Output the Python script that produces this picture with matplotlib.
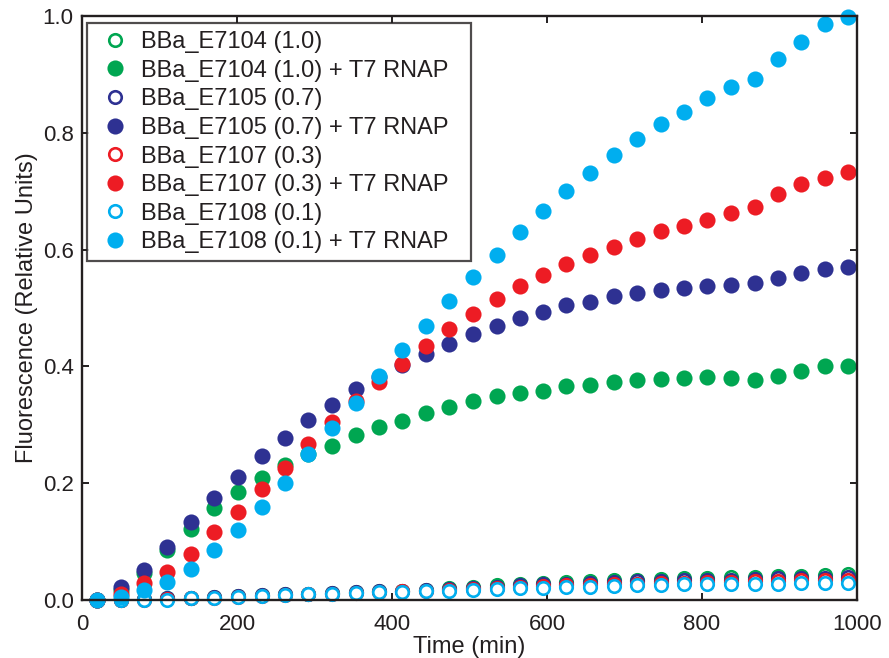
import numpy as np
import matplotlib.pyplot as plt

plt.rcParams['font.family'] = ['Liberation Sans', 'DejaVu Sans']

# sampling times (min)
time_min = [19, 50, 80, 110, 141, 171, 201, 232, 262, 292, 322, 353, 383,
            413, 444, 474, 504, 535, 565, 595, 625, 656, 686, 716, 747, 777,
            807, 837, 868, 898, 928, 959, 989]

# fluorescence without T7 RNAP (open symbols)
e7104 = [0.0, 0.001, 0.002, 0.003, 0.004, 0.005, 0.007, 0.008, 0.010, 0.011,
         0.012, 0.014, 0.015, 0.016, 0.018, 0.021, 0.023, 0.025, 0.027, 0.030,
         0.031, 0.033, 0.034, 0.035, 0.036, 0.037, 0.038, 0.039, 0.040, 0.041,
         0.042, 0.043, 0.044]
e7105 = [0.0, 0.001, 0.002, 0.003, 0.004, 0.005, 0.007, 0.008, 0.010, 0.011,
         0.012, 0.014, 0.015, 0.016, 0.017, 0.019, 0.021, 0.023, 0.025, 0.027,
         0.028, 0.030, 0.031, 0.032, 0.033, 0.034, 0.035, 0.035, 0.036, 0.037,
         0.038, 0.038, 0.039]
e7107 = [0.0, 0.001, 0.001, 0.002, 0.003, 0.004, 0.006, 0.007, 0.009, 0.010,
         0.011, 0.013, 0.014, 0.015, 0.016, 0.018, 0.019, 0.021, 0.022, 0.024,
         0.025, 0.026, 0.027, 0.028, 0.029, 0.030, 0.031, 0.031, 0.032, 0.033,
         0.034, 0.034, 0.035]
e7108 = [0.0, 0.0, 0.001, 0.001, 0.003, 0.004, 0.006, 0.007, 0.009, 0.010,
         0.011, 0.013, 0.014, 0.014, 0.015, 0.016, 0.017, 0.019, 0.020, 0.021,
         0.022, 0.023, 0.024, 0.025, 0.026, 0.027, 0.027, 0.027, 0.028, 0.028,
         0.029, 0.029, 0.030]

# fluorescence with T7 RNAP (filled symbols)
e7104_t7 = [0.0, 0.017, 0.046, 0.086, 0.122, 0.158, 0.185, 0.209, 0.232, 0.25,
            0.264, 0.283, 0.297, 0.307, 0.32, 0.331, 0.34, 0.349, 0.355, 0.358,
            0.366, 0.368, 0.374, 0.377, 0.378, 0.38, 0.382, 0.381, 0.377, 0.384,
            0.393, 0.401, 0.40]
e7105_t7 = [0.0, 0.023, 0.052, 0.091, 0.134, 0.174, 0.211, 0.247, 0.278, 0.308,
            0.334, 0.361, 0.382, 0.402, 0.422, 0.438, 0.455, 0.47, 0.483, 0.494,
            0.505, 0.511, 0.521, 0.525, 0.531, 0.535, 0.538, 0.539, 0.543, 0.551,
            0.56, 0.566, 0.57]
e7107_t7 = [0.0, 0.011, 0.029, 0.048, 0.079, 0.116, 0.151, 0.19, 0.227, 0.268,
            0.305, 0.34, 0.374, 0.404, 0.435, 0.464, 0.49, 0.515, 0.538, 0.556,
            0.575, 0.59, 0.605, 0.619, 0.632, 0.641, 0.65, 0.662, 0.673, 0.695,
            0.713, 0.722, 0.733]
e7108_t7 = [0.0, 0.006, 0.017, 0.031, 0.054, 0.086, 0.12, 0.16, 0.201, 0.25,
            0.294, 0.338, 0.384, 0.428, 0.47, 0.512, 0.553, 0.591, 0.631, 0.666,
            0.70, 0.732, 0.762, 0.789, 0.815, 0.836, 0.859, 0.878, 0.892, 0.926,
            0.955, 0.986, 0.998]

green = '#00a651'
navy = '#2e3192'
red = '#ed1c24'
cyan = '#00aeef'
ink = '#231f20'

series = [
    ('BBa_E7104 (1.0)', e7104, green, False),
    ('BBa_E7104 (1.0) + T7 RNAP', e7104_t7, green, True),
    ('BBa_E7105 (0.7)', e7105, navy, False),
    ('BBa_E7105 (0.7) + T7 RNAP', e7105_t7, navy, True),
    ('BBa_E7107 (0.3)', e7107, red, False),
    ('BBa_E7107 (0.3) + T7 RNAP', e7107_t7, red, True),
    ('BBa_E7108 (0.1)', e7108, cyan, False),
    ('BBa_E7108 (0.1) + T7 RNAP', e7108_t7, cyan, True),
]

fig = plt.figure(figsize=(8.89, 6.58), dpi=100)
ax = fig.add_axes([0.0922, 0.088, 0.8718, 0.8877])

for label, vals, col, filled in series:
    if filled:
        ax.plot(time_min, vals, 'o', ms=11.6, mfc=col, mec=col, mew=0,
                label=label, clip_on=False)
    else:
        ax.plot(time_min, vals, 'o', ms=9.0, mfc='white', mec=col, mew=1.9,
                label=label, clip_on=False)

ax.set_xlim(0, 1000)
ax.set_ylim(0, 1.0)
ax.set_xticks(np.arange(0, 1001, 200))
ax.set_yticks(np.arange(0, 1.01, 0.2))
ax.set_yticklabels(['%.1f' % v for v in np.arange(0, 1.01, 0.2)])
ax.tick_params(direction='in', length=5, width=1.4, labelsize=16,
               top=True, right=True, pad=6, colors=ink)
ax.tick_params(axis='x', pad=10)
for s in ax.spines.values():
    s.set_linewidth(1.7)
    s.set_color(ink)

ax.set_xlabel('Time (min)', fontsize=17, labelpad=1, color=ink)
ax.set_ylabel('Fluorescence (Relative Units)', fontsize=17, labelpad=3,
              color=ink)

# legend box stretched to a fixed width in the upper left corner
leg = ax.legend(loc='upper left', bbox_to_anchor=(0.006, 0.0, 0.4955, 0.9875),
                mode='expand', borderaxespad=0, fontsize=17, frameon=True,
                fancybox=False, edgecolor=ink, labelspacing=0.28,
                handletextpad=0.22, handlelength=1.75, borderpad=0.33)
leg.get_frame().set_linewidth(1.6)
for t in leg.get_texts():
    t.set_color(ink)

fig.savefig('out.png', dpi=100)
